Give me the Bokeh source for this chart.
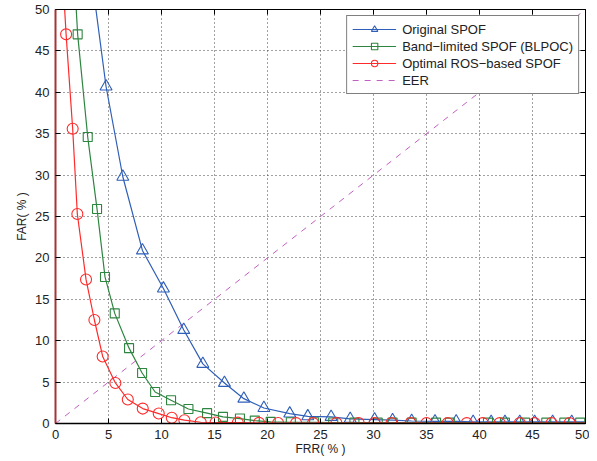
from bokeh.plotting import figure
from bokeh.models import LinearAxis, Legend, LegendItem, Range1d, FixedTicker
from bokeh.embed import file_html
from bokeh.resources import INLINE

# ---- data ----
orig_x = [3.3, 4.77, 6.35, 8.2, 10.18, 12.1, 13.9, 15.94, 17.77, 19.66, 22.1, 23.8, 26.0, 27.8,
          30.1, 31.8, 33.6, 35.8, 37.8, 39.4, 41.1, 42.4, 43.8, 45.2, 46.9, 48.7, 51.0]
orig_y = [55.0, 40.7, 29.8, 20.9, 16.3, 11.3, 7.2, 4.9, 3.0, 1.87, 1.2, 0.87, 0.8, 0.56,
          0.48, 0.4, 0.3, 0.25, 0.25, 0.2, 0.2, 0.2, 0.2, 0.2, 0.2, 0.2, 0.2]

blpoc_x = [1.6, 2.09, 3.04, 3.92, 4.67, 5.59, 6.94, 8.17, 9.40, 10.9, 12.54, 14.3, 15.8, 17.4,
           18.8, 20.3, 22.2, 24.4, 26.2, 28.2, 30.4, 31.8, 33.6, 35.9, 37.2, 40.8, 42.4, 44.3,
           46.3, 48.0, 49.5, 51.0]
blpoc_y = [58.0, 47.0, 34.6, 25.9, 17.7, 13.3, 9.1, 6.1, 3.8, 2.8, 1.75, 1.25, 0.8, 0.6,
           0.35, 0.2, 0.15, 0.15, 0.12, 0.1, 0.1, 0.1, 0.1, 0.1, 0.1, 0.1, 0.1, 0.1,
           0.1, 0.1, 0.1, 0.1]

ros_x = [0.5, 1.0, 1.62, 2.06, 2.88, 3.67, 4.45, 5.65, 6.82, 8.23, 9.74, 10.97, 12.16, 13.7,
         15.1, 17.2, 19.2, 21.0, 22.7, 24.3, 26.5, 28.6, 30.1, 31.7, 33.5, 35.0, 37.0, 38.8,
         40.3, 41.9, 43.8, 45.2, 46.8, 48.5, 51.0]
ros_y = [58.0, 47.0, 35.6, 25.3, 17.4, 12.5, 8.1, 4.9, 2.9, 1.8, 1.2, 0.7, 0.4, 0.15,
         0.12, 0.1, 0.08, 0.06, 0.05, 0.05, 0.05, 0.05, 0.05, 0.05, 0.05, 0.05, 0.05, 0.05,
         0.05, 0.05, 0.05, 0.05, 0.05, 0.05, 0.05]

eer_x = [0, 50]
eer_y = [0, 50]

ticks = [0, 5, 10, 15, 20, 25, 30, 35, 40, 45, 50]
labels = ["Original SPOF", "Band\u2212limited SPOF (BLPOC)", "Optimal ROS\u2212based SPOF", "EER"]

FONT = "Liberation Sans"
BLUE = "#2f5fb8"
GREEN = "#2e8540"
RED = "#ff2a2a"
EER_C = "#c060c0"

p = figure(frame_width=530, frame_height=414, output_backend="svg", toolbar_location=None,
           x_range=Range1d(0, 50), y_range=Range1d(0, 50),
           min_border_top=9, min_border_right=4, min_border_left=55, min_border_bottom=2,
           background_fill_color="white", border_fill_color="white")
p.outline_line_color = "black"
p.outline_line_width = 1

# grid
for g in (p.xgrid, p.ygrid):
    g.ticker = FixedTicker(ticks=ticks)
    g.grid_line_color = "#444444"
    g.grid_line_dash = "1 3"
    g.grid_line_width = 1

# axes
for ax in (p.xaxis[0], p.yaxis[0]):
    ax.ticker = FixedTicker(ticks=ticks)
    ax.major_tick_in = 5
    ax.major_tick_out = 0
    ax.minor_tick_in = 0
    ax.minor_tick_out = 0
    ax.major_label_text_font = FONT
    ax.major_label_text_font_size = "13px"
    ax.major_label_text_color = "#222222"
    ax.axis_label_text_font = FONT
    ax.axis_label_text_font_size = "12px"
    ax.axis_label_text_font_style = "normal"
    ax.axis_label_text_color = "#222222"
    ax.major_tick_line_color = "black"
p.xaxis[0].axis_label = "FRR( % )"
p.yaxis[0].axis_label = "FAR( % )"
p.xaxis[0].axis_label_standoff = 0
p.yaxis[0].axis_label_standoff = 3
p.xaxis[0].major_label_standoff = 6
p.yaxis[0].major_label_standoff = 6
p.yaxis[0].axis_line_color = "#a33535"
p.yaxis[0].axis_line_width = 2
p.xaxis[0].axis_line_width = 1.5

for loc in ("right", "above"):
    ax = LinearAxis(ticker=FixedTicker(ticks=ticks))
    ax.major_tick_in = 5
    ax.major_tick_out = 0
    ax.minor_tick_in = 0
    ax.minor_tick_out = 0
    ax.major_label_overrides = {t: "" for t in ticks}
    ax.major_label_text_font_size = "1px"
    ax.major_label_standoff = 0
    ax.axis_line_color = "black"
    p.add_layout(ax, loc)

# EER
eer = p.line(eer_x, eer_y, line_color=EER_C, line_dash="6 6", line_width=1)

# series
l1 = p.line(orig_x, orig_y, line_color=BLUE, line_width=1.2)
m1 = p.scatter(orig_x, orig_y, marker="triangle", size=12, fill_color=None,
               line_color=BLUE, line_width=1.1)
l2 = p.line(blpoc_x, blpoc_y, line_color=GREEN, line_width=1.2)
m2 = p.scatter(blpoc_x, blpoc_y, marker="square", size=9, fill_color=None,
               line_color=GREEN, line_width=1.1)
l3 = p.line(ros_x, ros_y, line_color=RED, line_width=1.2)
m3 = p.scatter(ros_x, ros_y, marker="circle", size=11, fill_color=None,
               line_color=RED, line_width=1.1)

legend = Legend(items=[
    LegendItem(label=labels[0], renderers=[l1, m1]),
    LegendItem(label=labels[1], renderers=[l2, m2]),
    LegendItem(label=labels[2], renderers=[l3, m3]),
    LegendItem(label=labels[3], renderers=[eer]),
], location="top_right")
legend.label_text_font = FONT
legend.label_text_font_size = "13px"
legend.label_text_color = "#222222"
legend.glyph_width = 44
legend.glyph_height = 16
legend.label_height = 16
legend.spacing = 1
legend.padding = 5
legend.margin = 6
legend.label_standoff = 6
legend.border_line_color = "black"
legend.border_line_width = 1
legend.background_fill_color = "white"
legend.background_fill_alpha = 1
p.add_layout(legend)

open("out.html", "w").write(file_html(p, INLINE))
